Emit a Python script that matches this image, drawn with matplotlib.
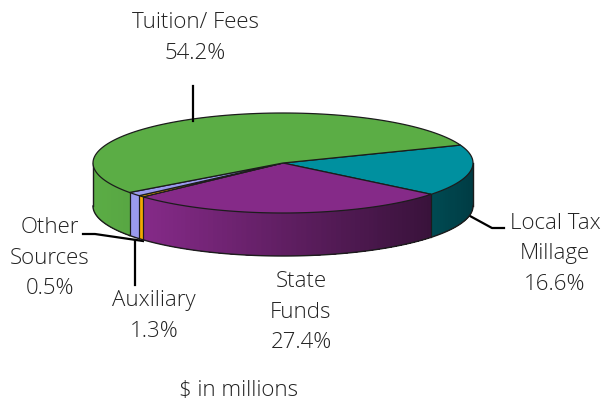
import numpy as np
import matplotlib
matplotlib.use("Agg")
import matplotlib.pyplot as plt
from matplotlib.colors import to_rgb

names = ["Local Tax\nMillage", "State\nFunds", "Other\nSources", "Auxiliary", "Tuition/ Fees"]
shares = [16.6, 27.4, 0.5, 1.3, 54.2]
top_colors = ["#00909F", "#852A88", "#F2A900", "#9A9AEE", "#5BAD45"]
side_left = ["#004A52", "#852A88", "#F2A900", "#9A9AEE", "#5BAD45"]
side_right = ["#003C44", "#38123A", "#F2A900", "#9A9AEE", "#58A643"]
note = "$ in millions"
label_pos = [(555, 254), (301, 312), (50, 258), (154, 316), (195, 38)]

CX, CY, RX, RY, DEPTH = 283, 163, 190, 50, 43
START = 21
EDGE = "#1c1c1c"
TXT = "#222222"

def arc(a, b, n=100):
    t = np.radians(np.linspace(a, b, n))
    return CX + RX * np.cos(t), CY - RY * np.sin(t)

fig = plt.figure(figsize=(6.05, 4.04), dpi=100)
ax = fig.add_axes([0, 0, 1, 1])
ax.set_xlim(0, 605)
ax.set_ylim(404, 0)
ax.axis("off")

# angles go clockwise from the start angle
ends = START - np.cumsum(shares) * 3.6
starts = np.r_[START, ends[:-1]]

# rim, only the front half shows
for a, b, c1, c2 in zip(starts, ends, side_left, side_right):
    for lo, hi in [(a, b), (a + 360, b + 360), (a - 360, b - 360)]:
        hi2, lo2 = max(hi, -180), min(lo, 0)
        if hi2 >= lo2:
            continue
        # paint left to right, each strip runs on to the slice end so no seams show
        steps = max(1, int((lo2 - hi2) / 1.5))
        cuts = np.linspace(hi2, lo2, steps + 1)[:-1]
        x0 = CX + RX * np.cos(np.radians(hi2))
        x1 = CX + RX * np.cos(np.radians(lo2))
        for s in cuts:
            x, y = arc(s, lo2, 60)
            f = (x[0] - x0) / max(x1 - x0, 1)
            col = np.array(to_rgb(c1)) * (1 - f) + np.array(to_rgb(c2)) * f
            ax.fill(np.r_[x, x[::-1]], np.r_[y, y[::-1] + DEPTH], color=col, lw=0, zorder=2)
        x, y = arc(lo2, hi2)
        ax.plot(x, y + DEPTH, color=EDGE, lw=1, zorder=3)
        for v in (lo2, hi2):
            if v not in (0, -180):
                vx, vy = arc(v, v, 1)
                ax.plot([vx[0], vx[0]], [vy[0], vy[0] + DEPTH], color=EDGE, lw=0.8, zorder=3)

for v in (0, -180):
    vx, vy = arc(v, v, 1)
    ax.plot([vx[0], vx[0]], [vy[0], vy[0] + DEPTH], color=EDGE, lw=1, zorder=3)

# top face
for a, b, c in zip(starts, ends, top_colors):
    x, y = arc(a, b)
    ax.fill(np.r_[CX, x], np.r_[CY, y], facecolor=c, edgecolor=EDGE, lw=0.9, zorder=4)

# leader lines
ax.plot([193, 193], [86, 121], color="black", lw=1.6, zorder=5)
ax.plot([470, 492, 504], [216, 228, 228], color="black", lw=1.6, zorder=1)
ax.plot([83, 95, 143], [234, 234, 241], color="black", lw=1.6, zorder=1)
ax.plot([135, 135], [240, 285], color="black", lw=1.6, zorder=1)

font = dict(family="Open Sans", weight="light", fontsize=16, color=TXT,
            ha="center", va="center", linespacing=1.6)
for name, p, (x, y) in zip(names, shares, label_pos):
    ax.text(x, y, "%s\n%.1f%%" % (name, p), **font)
ax.text(239, 391, note, **font)

fig.savefig("out.png", dpi=100)
